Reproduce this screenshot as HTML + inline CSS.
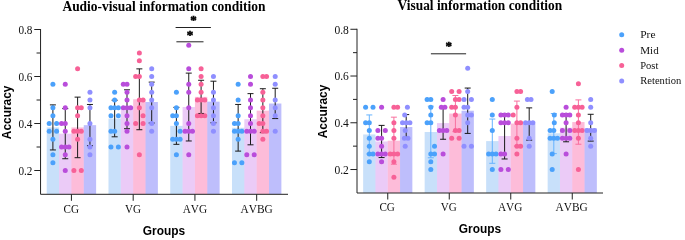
<!DOCTYPE html>
<html lang="en">
<head>
<meta charset="utf-8">
<title>Accuracy by group and condition</title>
<style>
html,body{margin:0;padding:0;background:#fff;}
body{width:685px;height:240px;overflow:hidden;}
svg{display:block;}
text{fill:#111;}
.tk{font:12px "Liberation Serif","Times New Roman",serif;}
.xt{font:13px "Liberation Serif","Times New Roman",serif;font-kerning:none;}
.lg{font:11.2px "Liberation Serif","Times New Roman",serif;}
.ti{font:bold 14.1px "Liberation Serif","Times New Roman",serif;fill:#000;}
.al{font:bold 11.9px "Liberation Sans",Arial,sans-serif;fill:#000;}
.st{font:bold 13px "Liberation Serif","Times New Roman",serif;fill:#000;stroke:#000;stroke-width:0.5px;}
</style>
</head>
<body>
<svg width="685" height="240" viewBox="0 0 685 240">
<rect width="685" height="240" fill="#fff"/>
<rect x="58.67" y="133.68" width="1" height="60.32" fill="#c8e0fa"/>
<rect x="46.72" y="127.42" width="12.35" height="66.58" fill="#c8e0fa"/>
<rect x="71.02" y="133.68" width="1" height="60.32" fill="#ebcbf7"/>
<rect x="59.07" y="133.68" width="12.35" height="60.32" fill="#ebcbf7"/>
<rect x="83.37" y="127.42" width="1" height="66.58" fill="#fdbcd9"/>
<rect x="71.42" y="127.42" width="12.35" height="66.58" fill="#fdbcd9"/>
<rect x="83.77" y="125.14" width="12.35" height="68.86" fill="#bebefc"/>
<rect x="120.42" y="118.52" width="1" height="75.48" fill="#c8e0fa"/>
<rect x="108.48" y="118.52" width="12.35" height="75.48" fill="#c8e0fa"/>
<rect x="132.78" y="109.26" width="1" height="84.74" fill="#ebcbf7"/>
<rect x="120.83" y="109.26" width="12.35" height="84.74" fill="#ebcbf7"/>
<rect x="145.12" y="102" width="1" height="92" fill="#fdbcd9"/>
<rect x="133.18" y="99.29" width="12.35" height="94.71" fill="#fdbcd9"/>
<rect x="145.53" y="102" width="12.35" height="92" fill="#bebefc"/>
<rect x="182.18" y="125.85" width="1" height="68.15" fill="#c8e0fa"/>
<rect x="170.23" y="125.85" width="12.35" height="68.15" fill="#c8e0fa"/>
<rect x="194.53" y="107.05" width="1" height="86.95" fill="#ebcbf7"/>
<rect x="182.58" y="107.05" width="12.35" height="86.95" fill="#ebcbf7"/>
<rect x="206.88" y="101.64" width="1" height="92.36" fill="#fdbcd9"/>
<rect x="194.93" y="96.87" width="12.35" height="97.13" fill="#fdbcd9"/>
<rect x="207.28" y="101.64" width="12.35" height="92.36" fill="#bebefc"/>
<rect x="243.93" y="127.77" width="1" height="66.23" fill="#c8e0fa"/>
<rect x="231.98" y="127.77" width="12.35" height="66.23" fill="#c8e0fa"/>
<rect x="256.28" y="119.23" width="1" height="74.77" fill="#ebcbf7"/>
<rect x="244.33" y="119.23" width="12.35" height="74.77" fill="#ebcbf7"/>
<rect x="268.63" y="110.68" width="1" height="83.32" fill="#fdbcd9"/>
<rect x="256.68" y="110.68" width="12.35" height="83.32" fill="#fdbcd9"/>
<rect x="269.03" y="103.52" width="12.35" height="90.48" fill="#bebefc"/>
<path d="M52.9 104.88V149.95M49.9 104.88h6M49.9 149.95h6" stroke="#1a1a1a" stroke-width="1" fill="none"/>
<path d="M65.25 108.62V158.74M62.25 108.62h6M62.25 158.74h6" stroke="#1a1a1a" stroke-width="1" fill="none"/>
<path d="M77.6 97.13V157.7M74.6 97.13h6M74.6 157.7h6" stroke="#1a1a1a" stroke-width="1" fill="none"/>
<path d="M89.95 104.47V145.71M86.95 104.47h6M86.95 145.71h6" stroke="#1a1a1a" stroke-width="1" fill="none"/>
<path d="M114.65 100.22V136.81M111.65 100.22h6M111.65 136.81h6" stroke="#1a1a1a" stroke-width="1" fill="none"/>
<path d="M127 89.81V128.71M124 89.81h6M124 128.71h6" stroke="#1a1a1a" stroke-width="1" fill="none"/>
<path d="M139.35 68.86V129.72M136.35 68.86h6M136.35 129.72h6" stroke="#1a1a1a" stroke-width="1" fill="none"/>
<path d="M151.7 82.14V123.03M148.7 82.14h6M148.7 123.03h6" stroke="#1a1a1a" stroke-width="1" fill="none"/>
<path d="M176.4 107.37V144.33M173.4 107.37h6M173.4 144.33h6" stroke="#1a1a1a" stroke-width="1" fill="none"/>
<path d="M188.75 73.12V140.98M185.75 73.12h6M185.75 140.98h6" stroke="#1a1a1a" stroke-width="1" fill="none"/>
<path d="M201.1 80.27V113.46M198.1 80.27h6M198.1 113.46h6" stroke="#1a1a1a" stroke-width="1" fill="none"/>
<path d="M213.45 81.2V122.79M210.45 81.2h6M210.45 122.79h6" stroke="#1a1a1a" stroke-width="1" fill="none"/>
<path d="M238.15 104.44V151.11M235.15 104.44h6M235.15 151.11h6" stroke="#1a1a1a" stroke-width="1" fill="none"/>
<path d="M250.5 93.64V144.82M247.5 93.64h6M247.5 144.82h6" stroke="#1a1a1a" stroke-width="1" fill="none"/>
<path d="M262.85 88.73V132.64M259.85 88.73h6M259.85 132.64h6" stroke="#1a1a1a" stroke-width="1" fill="none"/>
<path d="M275.2 88.25V118.57M272.2 88.25h6M272.2 118.57h6" stroke="#1a1a1a" stroke-width="1" fill="none"/>
<g fill="#4ba1fb"><circle cx="52.9" cy="84.33" r="2.5"/><circle cx="52.9" cy="107.83" r="2.5"/><circle cx="52.9" cy="115.67" r="2.5"/><circle cx="49.2" cy="123.5" r="2.5"/><circle cx="56.6" cy="123.5" r="2.5"/><circle cx="49.2" cy="131.33" r="2.5"/><circle cx="56.6" cy="131.33" r="2.5"/><circle cx="52.9" cy="139.17" r="2.5"/><circle cx="52.9" cy="154.83" r="2.5"/><circle cx="52.9" cy="162.67" r="2.5"/></g>
<g fill="#b94ddb"><circle cx="65.25" cy="84.33" r="2.5"/><circle cx="65.25" cy="107.83" r="2.5"/><circle cx="61.55" cy="123.5" r="2.5"/><circle cx="65.25" cy="123.5" r="2.5"/><circle cx="65.25" cy="131.33" r="2.5"/><circle cx="61.55" cy="147" r="2.5"/><circle cx="65.25" cy="147" r="2.5"/><circle cx="68.95" cy="147" r="2.5"/><circle cx="65.25" cy="154.83" r="2.5"/><circle cx="65.25" cy="170.5" r="2.5"/></g>
<g fill="#f76197"><circle cx="77.6" cy="68.67" r="2.5"/><circle cx="77.6" cy="107.83" r="2.5"/><circle cx="81.3" cy="107.83" r="2.5"/><circle cx="77.6" cy="115.67" r="2.5"/><circle cx="73.9" cy="131.33" r="2.5"/><circle cx="77.6" cy="131.33" r="2.5"/><circle cx="81.3" cy="131.33" r="2.5"/><circle cx="77.6" cy="139.17" r="2.5"/><circle cx="73.9" cy="170.5" r="2.5"/><circle cx="81.3" cy="170.5" r="2.5"/></g>
<g fill="#8f8fff"><circle cx="89.95" cy="92.17" r="2.5"/><circle cx="89.95" cy="100" r="2.5"/><circle cx="89.95" cy="107.83" r="2.5"/><circle cx="89.95" cy="123.5" r="2.5"/><circle cx="89.95" cy="139.17" r="2.5"/><circle cx="89.95" cy="147" r="2.5"/><circle cx="89.95" cy="154.83" r="2.5"/></g>
<g fill="#4ba1fb"><circle cx="114.65" cy="92.17" r="2.5"/><circle cx="114.65" cy="100" r="2.5"/><circle cx="110.95" cy="107.83" r="2.5"/><circle cx="114.65" cy="107.83" r="2.5"/><circle cx="118.35" cy="107.83" r="2.5"/><circle cx="110.95" cy="115.67" r="2.5"/><circle cx="118.35" cy="115.67" r="2.5"/><circle cx="110.95" cy="131.33" r="2.5"/><circle cx="114.65" cy="131.33" r="2.5"/><circle cx="110.95" cy="147" r="2.5"/><circle cx="118.35" cy="147" r="2.5"/></g>
<g fill="#b94ddb"><circle cx="123.3" cy="84.33" r="2.5"/><circle cx="127" cy="84.33" r="2.5"/><circle cx="127" cy="92.17" r="2.5"/><circle cx="127" cy="100" r="2.5"/><circle cx="123.3" cy="107.83" r="2.5"/><circle cx="127" cy="107.83" r="2.5"/><circle cx="130.7" cy="107.83" r="2.5"/><circle cx="127" cy="115.67" r="2.5"/><circle cx="127" cy="123.5" r="2.5"/><circle cx="127" cy="131.33" r="2.5"/><circle cx="127" cy="147" r="2.5"/></g>
<g fill="#f76197"><circle cx="139.35" cy="53" r="2.5"/><circle cx="139.35" cy="60.83" r="2.5"/><circle cx="135.65" cy="76.5" r="2.5"/><circle cx="139.35" cy="76.5" r="2.5"/><circle cx="139.35" cy="100" r="2.5"/><circle cx="143.05" cy="100" r="2.5"/><circle cx="139.35" cy="107.83" r="2.5"/><circle cx="143.05" cy="115.67" r="2.5"/><circle cx="135.65" cy="123.5" r="2.5"/><circle cx="143.05" cy="123.5" r="2.5"/><circle cx="139.35" cy="154.83" r="2.5"/></g>
<g fill="#8f8fff"><circle cx="151.7" cy="68.67" r="2.5"/><circle cx="151.7" cy="76.5" r="2.5"/><circle cx="151.7" cy="84.33" r="2.5"/><circle cx="151.7" cy="92.17" r="2.5"/><circle cx="151.7" cy="100" r="2.5"/><circle cx="151.7" cy="107.83" r="2.5"/><circle cx="151.7" cy="123.5" r="2.5"/><circle cx="151.7" cy="131.33" r="2.5"/></g>
<g fill="#4ba1fb"><circle cx="176.4" cy="92.17" r="2.5"/><circle cx="176.4" cy="107.83" r="2.5"/><circle cx="172.7" cy="115.67" r="2.5"/><circle cx="176.4" cy="115.67" r="2.5"/><circle cx="176.4" cy="123.5" r="2.5"/><circle cx="180.1" cy="131.33" r="2.5"/><circle cx="172.7" cy="139.17" r="2.5"/><circle cx="176.4" cy="139.17" r="2.5"/><circle cx="180.1" cy="139.17" r="2.5"/><circle cx="176.4" cy="154.83" r="2.5"/></g>
<g fill="#b94ddb"><circle cx="188.75" cy="45.17" r="2.5"/><circle cx="188.75" cy="68.67" r="2.5"/><circle cx="188.75" cy="84.33" r="2.5"/><circle cx="188.75" cy="92.17" r="2.5"/><circle cx="188.75" cy="107.83" r="2.5"/><circle cx="188.75" cy="123.5" r="2.5"/><circle cx="185.05" cy="131.33" r="2.5"/><circle cx="188.75" cy="131.33" r="2.5"/><circle cx="192.45" cy="131.33" r="2.5"/><circle cx="188.75" cy="154.83" r="2.5"/></g>
<g fill="#f76197"><circle cx="201.1" cy="68.67" r="2.5"/><circle cx="201.1" cy="76.5" r="2.5"/><circle cx="201.1" cy="84.33" r="2.5"/><circle cx="201.1" cy="92.17" r="2.5"/><circle cx="197.4" cy="100" r="2.5"/><circle cx="201.1" cy="100" r="2.5"/><circle cx="204.8" cy="100" r="2.5"/><circle cx="197.4" cy="115.67" r="2.5"/><circle cx="201.1" cy="115.67" r="2.5"/><circle cx="204.8" cy="115.67" r="2.5"/></g>
<g fill="#8f8fff"><circle cx="213.45" cy="76.5" r="2.5"/><circle cx="213.45" cy="92.17" r="2.5"/><circle cx="213.45" cy="100" r="2.5"/><circle cx="213.45" cy="107.83" r="2.5"/><circle cx="213.45" cy="115.67" r="2.5"/><circle cx="213.45" cy="123.5" r="2.5"/><circle cx="213.45" cy="131.33" r="2.5"/></g>
<g fill="#4ba1fb"><circle cx="238.15" cy="84.33" r="2.5"/><circle cx="238.15" cy="100" r="2.5"/><circle cx="238.15" cy="115.67" r="2.5"/><circle cx="234.45" cy="123.5" r="2.5"/><circle cx="238.15" cy="123.5" r="2.5"/><circle cx="234.45" cy="131.33" r="2.5"/><circle cx="238.15" cy="131.33" r="2.5"/><circle cx="241.85" cy="131.33" r="2.5"/><circle cx="238.15" cy="139.17" r="2.5"/><circle cx="234.45" cy="162.67" r="2.5"/><circle cx="241.85" cy="162.67" r="2.5"/></g>
<g fill="#b94ddb"><circle cx="250.5" cy="76.5" r="2.5"/><circle cx="250.5" cy="84.33" r="2.5"/><circle cx="250.5" cy="100" r="2.5"/><circle cx="250.5" cy="107.83" r="2.5"/><circle cx="250.5" cy="115.67" r="2.5"/><circle cx="250.5" cy="123.5" r="2.5"/><circle cx="246.8" cy="131.33" r="2.5"/><circle cx="250.5" cy="131.33" r="2.5"/><circle cx="254.2" cy="131.33" r="2.5"/><circle cx="246.8" cy="154.83" r="2.5"/><circle cx="254.2" cy="154.83" r="2.5"/></g>
<g fill="#f76197"><circle cx="262.85" cy="76.5" r="2.5"/><circle cx="266.55" cy="76.5" r="2.5"/><circle cx="262.85" cy="92.17" r="2.5"/><circle cx="262.85" cy="100" r="2.5"/><circle cx="262.85" cy="107.83" r="2.5"/><circle cx="262.85" cy="115.67" r="2.5"/><circle cx="259.15" cy="123.5" r="2.5"/><circle cx="262.85" cy="123.5" r="2.5"/><circle cx="262.85" cy="131.33" r="2.5"/><circle cx="266.55" cy="131.33" r="2.5"/><circle cx="262.85" cy="139.17" r="2.5"/></g>
<g fill="#8f8fff"><circle cx="275.2" cy="76.5" r="2.5"/><circle cx="275.2" cy="84.33" r="2.5"/><circle cx="275.2" cy="100" r="2.5"/><circle cx="275.2" cy="107.83" r="2.5"/><circle cx="275.2" cy="115.67" r="2.5"/><circle cx="275.2" cy="131.33" r="2.5"/></g>
<path d="M40.55 29V194.3H288" stroke="#222" stroke-width="1" fill="none"/>
<path d="M34.25 170.5h6.3M36.55 147h4M34.25 123.5h6.3M36.55 100h4M34.25 76.5h6.3M36.55 53h4M34.25 29.5h6.3M71.42 194.3v6.5M133.18 194.3v6.5M194.93 194.3v6.5M256.68 194.3v6.5" stroke="#222" stroke-width="1" fill="none"/>
<text x="18.45" y="174.95" class="tk" textLength="14.0" lengthAdjust="spacingAndGlyphs">0.2</text>
<text x="18.45" y="127.95" class="tk" textLength="14.0" lengthAdjust="spacingAndGlyphs">0.4</text>
<text x="18.45" y="80.95" class="tk" textLength="14.0" lengthAdjust="spacingAndGlyphs">0.6</text>
<text x="18.45" y="33.95" class="tk" textLength="14.0" lengthAdjust="spacingAndGlyphs">0.8</text>
<text x="63.58" y="213" class="xt" textLength="15.5" lengthAdjust="spacingAndGlyphs">CG</text>
<text x="125.08" y="213" class="xt" textLength="16.0" lengthAdjust="spacingAndGlyphs">VG</text>
<text x="182.63" y="213" class="xt" textLength="24.4" lengthAdjust="spacingAndGlyphs">AVG</text>
<text x="240.47" y="213" class="xt" textLength="32.2" lengthAdjust="spacingAndGlyphs">AVBG</text>
<text x="62.4" y="10.6" class="ti" textLength="203" lengthAdjust="spacingAndGlyphs">Audio-visual information condition</text>
<text x="164" y="234.7" text-anchor="middle" class="al">Groups</text>
<text transform="translate(10.6 112.4) rotate(-90)" text-anchor="middle" class="al">Accuracy</text>
<path d="M175.6 27.5H210.9" stroke="#222" stroke-width="1" fill="none"/>
<text x="193.5" y="24" text-anchor="middle" class="st">*</text>
<path d="M176.4 41.8H203.5" stroke="#222" stroke-width="1" fill="none"/>
<text x="189.9" y="38.7" text-anchor="middle" class="st">*</text>
<rect x="375.05" y="141.48" width="1" height="51.42" fill="#c8e0fa"/>
<rect x="363.15" y="134.46" width="12.3" height="58.44" fill="#c8e0fa"/>
<rect x="387.35" y="141.48" width="1" height="51.42" fill="#ebcbf7"/>
<rect x="375.45" y="141.48" width="12.3" height="51.42" fill="#ebcbf7"/>
<rect x="399.65" y="140.7" width="1" height="52.2" fill="#fdbcd9"/>
<rect x="387.75" y="140.7" width="12.3" height="52.2" fill="#fdbcd9"/>
<rect x="400.05" y="126.98" width="12.3" height="65.92" fill="#bebefc"/>
<rect x="436.55" y="131.98" width="1" height="60.92" fill="#c8e0fa"/>
<rect x="424.65" y="131.98" width="12.3" height="60.92" fill="#c8e0fa"/>
<rect x="448.85" y="123.1" width="1" height="69.8" fill="#ebcbf7"/>
<rect x="436.95" y="123.1" width="12.3" height="69.8" fill="#ebcbf7"/>
<rect x="461.15" y="113.57" width="1" height="79.33" fill="#fdbcd9"/>
<rect x="449.25" y="113.57" width="12.3" height="79.33" fill="#fdbcd9"/>
<rect x="461.55" y="110.73" width="12.3" height="82.17" fill="#bebefc"/>
<rect x="498.05" y="141.1" width="1" height="51.8" fill="#c8e0fa"/>
<rect x="486.15" y="141.1" width="12.3" height="51.8" fill="#c8e0fa"/>
<rect x="510.35" y="136.03" width="1" height="56.87" fill="#ebcbf7"/>
<rect x="498.45" y="136.03" width="12.3" height="56.87" fill="#ebcbf7"/>
<rect x="522.65" y="123.94" width="1" height="68.96" fill="#fdbcd9"/>
<rect x="510.75" y="123.55" width="12.3" height="69.35" fill="#fdbcd9"/>
<rect x="523.05" y="123.94" width="12.3" height="68.96" fill="#bebefc"/>
<rect x="559.55" y="133.29" width="1" height="59.61" fill="#c8e0fa"/>
<rect x="547.65" y="133.29" width="12.3" height="59.61" fill="#c8e0fa"/>
<rect x="571.85" y="127.73" width="1" height="65.17" fill="#ebcbf7"/>
<rect x="559.95" y="127.73" width="12.3" height="65.17" fill="#ebcbf7"/>
<rect x="584.15" y="128.24" width="1" height="64.66" fill="#fdbcd9"/>
<rect x="572.25" y="122.07" width="12.3" height="70.83" fill="#fdbcd9"/>
<rect x="584.55" y="128.24" width="12.3" height="64.66" fill="#bebefc"/>
<path d="M369.3 114.94V153.98M366.3 114.94h6M366.3 153.98h6" stroke="#66b3ff" stroke-width="1" fill="none"/>
<path d="M381.6 125.38V157.57M378.6 125.38h6M378.6 157.57h6" stroke="#1a1a1a" stroke-width="1" fill="none"/>
<path d="M393.9 117.16V164.23M390.9 117.16h6M390.9 164.23h6" stroke="#f8709f" stroke-width="1" fill="none"/>
<path d="M406.2 114.59V139.37M403.2 114.59h6M403.2 139.37h6" stroke="#1a1a1a" stroke-width="1" fill="none"/>
<path d="M430.8 106.18V157.78M427.8 106.18h6M427.8 157.78h6" stroke="#66b3ff" stroke-width="1" fill="none"/>
<path d="M443.1 106.95V139.25M440.1 106.95h6M440.1 139.25h6" stroke="#1a1a1a" stroke-width="1" fill="none"/>
<path d="M455.4 95.52V131.61M452.4 95.52h6M452.4 131.61h6" stroke="#f8709f" stroke-width="1" fill="none"/>
<path d="M467.7 88.05V133.41M464.7 88.05h6M464.7 133.41h6" stroke="#1a1a1a" stroke-width="1" fill="none"/>
<path d="M492.3 119.04V163.31M489.3 119.04h6M489.3 163.31h6" stroke="#66b3ff" stroke-width="1" fill="none"/>
<path d="M504.6 113.78V158.98M501.6 113.78h6M501.6 158.98h6" stroke="#1a1a1a" stroke-width="1" fill="none"/>
<path d="M516.9 101.08V146.03M513.9 101.08h6M513.9 146.03h6" stroke="#f8709f" stroke-width="1" fill="none"/>
<path d="M529.2 107.89V140.17M526.2 107.89h6M526.2 140.17h6" stroke="#1a1a1a" stroke-width="1" fill="none"/>
<path d="M553.8 113.57V153.63M550.8 113.57h6M550.8 153.63h6" stroke="#66b3ff" stroke-width="1" fill="none"/>
<path d="M566.1 113.68V141.79M563.1 113.68h6M563.1 141.79h6" stroke="#1a1a1a" stroke-width="1" fill="none"/>
<path d="M578.4 99.9V144.23M575.4 99.9h6M575.4 144.23h6" stroke="#f8709f" stroke-width="1" fill="none"/>
<path d="M590.7 114.29V141.1M587.7 114.29h6M587.7 141.1h6" stroke="#1a1a1a" stroke-width="1" fill="none"/>
<g fill="#4ba1fb"><circle cx="365.6" cy="107.19" r="2.5"/><circle cx="373" cy="107.19" r="2.5"/><circle cx="365.6" cy="122.77" r="2.5"/><circle cx="369.3" cy="122.77" r="2.5"/><circle cx="369.3" cy="130.57" r="2.5"/><circle cx="369.3" cy="138.36" r="2.5"/><circle cx="369.3" cy="146.15" r="2.5"/><circle cx="369.3" cy="153.94" r="2.5"/><circle cx="373" cy="153.94" r="2.5"/><circle cx="369.3" cy="161.73" r="2.5"/></g>
<g fill="#b94ddb"><circle cx="381.6" cy="107.19" r="2.5"/><circle cx="377.9" cy="130.57" r="2.5"/><circle cx="385.3" cy="130.57" r="2.5"/><circle cx="377.9" cy="138.36" r="2.5"/><circle cx="381.6" cy="138.36" r="2.5"/><circle cx="381.6" cy="146.15" r="2.5"/><circle cx="377.9" cy="153.94" r="2.5"/><circle cx="381.6" cy="153.94" r="2.5"/><circle cx="385.3" cy="153.94" r="2.5"/><circle cx="381.6" cy="161.73" r="2.5"/></g>
<g fill="#f76197"><circle cx="393.9" cy="107.19" r="2.5"/><circle cx="397.6" cy="107.19" r="2.5"/><circle cx="393.9" cy="122.77" r="2.5"/><circle cx="393.9" cy="130.57" r="2.5"/><circle cx="393.9" cy="138.36" r="2.5"/><circle cx="390.2" cy="153.94" r="2.5"/><circle cx="393.9" cy="153.94" r="2.5"/><circle cx="397.6" cy="153.94" r="2.5"/><circle cx="393.9" cy="161.73" r="2.5"/><circle cx="393.9" cy="177.32" r="2.5"/></g>
<g fill="#8f8fff"><circle cx="407.4" cy="107.19" r="2.5"/><circle cx="404.7" cy="114.98" r="2.5"/><circle cx="402.5" cy="122.77" r="2.5"/><circle cx="406.2" cy="122.77" r="2.5"/><circle cx="409.9" cy="122.77" r="2.5"/><circle cx="405.2" cy="130.57" r="2.5"/><circle cx="404.4" cy="138.36" r="2.5"/><circle cx="408" cy="138.36" r="2.5"/><circle cx="405.2" cy="146.15" r="2.5"/></g>
<g fill="#4ba1fb"><circle cx="427.1" cy="99.4" r="2.5"/><circle cx="430.8" cy="99.4" r="2.5"/><circle cx="430.8" cy="107.19" r="2.5"/><circle cx="430.8" cy="114.98" r="2.5"/><circle cx="427.1" cy="122.77" r="2.5"/><circle cx="430.8" cy="122.77" r="2.5"/><circle cx="434.5" cy="146.15" r="2.5"/><circle cx="430.8" cy="153.94" r="2.5"/><circle cx="434.5" cy="153.94" r="2.5"/><circle cx="430.8" cy="161.73" r="2.5"/><circle cx="430.8" cy="169.53" r="2.5"/></g>
<g fill="#b94ddb"><circle cx="443.1" cy="99.4" r="2.5"/><circle cx="441.3" cy="107.19" r="2.5"/><circle cx="444.9" cy="107.19" r="2.5"/><circle cx="439.4" cy="130.57" r="2.5"/><circle cx="443.1" cy="130.57" r="2.5"/><circle cx="446.8" cy="130.57" r="2.5"/><circle cx="443.1" cy="153.94" r="2.5"/></g>
<g fill="#f76197"><circle cx="451.7" cy="91.61" r="2.5"/><circle cx="459.1" cy="91.61" r="2.5"/><circle cx="455.4" cy="99.4" r="2.5"/><circle cx="459.1" cy="99.4" r="2.5"/><circle cx="451.7" cy="107.19" r="2.5"/><circle cx="455.4" cy="107.19" r="2.5"/><circle cx="455.4" cy="114.98" r="2.5"/><circle cx="455.4" cy="130.57" r="2.5"/><circle cx="459.1" cy="130.57" r="2.5"/><circle cx="451.7" cy="138.36" r="2.5"/><circle cx="459.1" cy="138.36" r="2.5"/></g>
<g fill="#8f8fff"><circle cx="467.7" cy="68.23" r="2.5"/><circle cx="467.7" cy="91.61" r="2.5"/><circle cx="464" cy="99.4" r="2.5"/><circle cx="471.4" cy="99.4" r="2.5"/><circle cx="464" cy="107.19" r="2.5"/><circle cx="467.7" cy="107.19" r="2.5"/><circle cx="467.7" cy="114.98" r="2.5"/><circle cx="471.4" cy="114.98" r="2.5"/><circle cx="467.7" cy="122.77" r="2.5"/><circle cx="464" cy="146.15" r="2.5"/><circle cx="471.4" cy="146.15" r="2.5"/></g>
<g fill="#4ba1fb"><circle cx="492.3" cy="99.4" r="2.5"/><circle cx="492.3" cy="114.98" r="2.5"/><circle cx="492.3" cy="130.57" r="2.5"/><circle cx="488.6" cy="153.94" r="2.5"/><circle cx="492.3" cy="153.94" r="2.5"/><circle cx="496" cy="153.94" r="2.5"/><circle cx="492.3" cy="169.53" r="2.5"/></g>
<g fill="#b94ddb"><circle cx="500.9" cy="114.98" r="2.5"/><circle cx="504.6" cy="114.98" r="2.5"/><circle cx="508.3" cy="114.98" r="2.5"/><circle cx="500.9" cy="122.77" r="2.5"/><circle cx="504.6" cy="122.77" r="2.5"/><circle cx="508.3" cy="122.77" r="2.5"/><circle cx="500.9" cy="153.94" r="2.5"/><circle cx="504.6" cy="153.94" r="2.5"/><circle cx="500.9" cy="169.53" r="2.5"/><circle cx="508.3" cy="169.53" r="2.5"/></g>
<g fill="#f76197"><circle cx="516.9" cy="91.61" r="2.5"/><circle cx="520.6" cy="91.61" r="2.5"/><circle cx="516.9" cy="107.19" r="2.5"/><circle cx="513.2" cy="114.98" r="2.5"/><circle cx="516.9" cy="122.77" r="2.5"/><circle cx="520.6" cy="122.77" r="2.5"/><circle cx="516.9" cy="138.36" r="2.5"/><circle cx="516.9" cy="146.15" r="2.5"/><circle cx="520.6" cy="146.15" r="2.5"/><circle cx="516.9" cy="153.94" r="2.5"/></g>
<g fill="#8f8fff"><circle cx="527.4" cy="99.4" r="2.5"/><circle cx="531" cy="99.4" r="2.5"/><circle cx="525.5" cy="122.77" r="2.5"/><circle cx="529.2" cy="122.77" r="2.5"/><circle cx="532.9" cy="122.77" r="2.5"/><circle cx="529.2" cy="138.36" r="2.5"/><circle cx="529.2" cy="146.15" r="2.5"/></g>
<g fill="#4ba1fb"><circle cx="552.2" cy="91.61" r="2.5"/><circle cx="554.3" cy="114.98" r="2.5"/><circle cx="554.3" cy="122.77" r="2.5"/><circle cx="550.1" cy="130.57" r="2.5"/><circle cx="553.8" cy="130.57" r="2.5"/><circle cx="550.1" cy="138.36" r="2.5"/><circle cx="553.8" cy="138.36" r="2.5"/><circle cx="557.5" cy="138.36" r="2.5"/><circle cx="552.2" cy="153.94" r="2.5"/><circle cx="552.2" cy="169.53" r="2.5"/></g>
<g fill="#b94ddb"><circle cx="566.1" cy="107.19" r="2.5"/><circle cx="562.4" cy="114.98" r="2.5"/><circle cx="566.1" cy="114.98" r="2.5"/><circle cx="569.8" cy="114.98" r="2.5"/><circle cx="566.1" cy="122.77" r="2.5"/><circle cx="562.4" cy="130.57" r="2.5"/><circle cx="569.8" cy="130.57" r="2.5"/><circle cx="562.4" cy="138.36" r="2.5"/><circle cx="566.1" cy="138.36" r="2.5"/><circle cx="569.8" cy="138.36" r="2.5"/><circle cx="566.1" cy="153.94" r="2.5"/></g>
<g fill="#f76197"><circle cx="578.4" cy="83.82" r="2.5"/><circle cx="574.7" cy="107.19" r="2.5"/><circle cx="578.4" cy="107.19" r="2.5"/><circle cx="582.1" cy="107.19" r="2.5"/><circle cx="578.4" cy="114.98" r="2.5"/><circle cx="578.4" cy="122.77" r="2.5"/><circle cx="574.7" cy="130.57" r="2.5"/><circle cx="578.4" cy="130.57" r="2.5"/><circle cx="582.1" cy="130.57" r="2.5"/><circle cx="578.4" cy="138.36" r="2.5"/><circle cx="578.4" cy="169.53" r="2.5"/></g>
<g fill="#8f8fff"><circle cx="590.7" cy="99.4" r="2.5"/><circle cx="590.7" cy="107.19" r="2.5"/><circle cx="590.7" cy="122.77" r="2.5"/><circle cx="587" cy="130.57" r="2.5"/><circle cx="590.7" cy="130.57" r="2.5"/><circle cx="594.4" cy="130.57" r="2.5"/><circle cx="590.7" cy="138.36" r="2.5"/><circle cx="590.7" cy="146.15" r="2.5"/></g>
<path d="M357 28.77V193H603" stroke="#222" stroke-width="1" fill="none"/>
<path d="M350.4 169.53h6.6M353 146.15h4M350.4 122.77h6.6M353 99.4h4M350.4 76.03h6.6M353 52.65h4M350.4 29.27h6.6M387.75 193v6.5M449.25 193v6.5M510.75 193v6.5M572.25 193v6.5" stroke="#222" stroke-width="1" fill="none"/>
<text x="334.4" y="173.97" class="tk" textLength="14.4" lengthAdjust="spacingAndGlyphs">0.2</text>
<text x="334.4" y="127.22" class="tk" textLength="14.4" lengthAdjust="spacingAndGlyphs">0.4</text>
<text x="334.4" y="80.48" class="tk" textLength="14.4" lengthAdjust="spacingAndGlyphs">0.6</text>
<text x="334.4" y="33.72" class="tk" textLength="14.4" lengthAdjust="spacingAndGlyphs">0.8</text>
<text x="379.4" y="211.3" class="xt" textLength="15.5" lengthAdjust="spacingAndGlyphs">CG</text>
<text x="440.65" y="211.3" class="xt" textLength="16.0" lengthAdjust="spacingAndGlyphs">VG</text>
<text x="497.95" y="211.3" class="xt" textLength="24.4" lengthAdjust="spacingAndGlyphs">AVG</text>
<text x="555.55" y="211.3" class="xt" textLength="32.2" lengthAdjust="spacingAndGlyphs">AVBG</text>
<text x="397.6" y="10.2" class="ti" textLength="164.6" lengthAdjust="spacingAndGlyphs">Visual information condition</text>
<text x="480" y="233.2" text-anchor="middle" class="al">Groups</text>
<text transform="translate(327.2 111.5) rotate(-90)" text-anchor="middle" class="al">Accuracy</text>
<path d="M430.9 53.8H466.1" stroke="#222" stroke-width="1" fill="none"/>
<text x="448.8" y="50.3" text-anchor="middle" class="st">*</text>
<circle cx="621.7" cy="34.8" r="2.5" fill="#4ba1fb"/>
<text x="640.2" y="38.1" class="lg" textLength="15.3" lengthAdjust="spacingAndGlyphs">Pre</text>
<circle cx="621.7" cy="50.2" r="2.5" fill="#b94ddb"/>
<text x="640.2" y="53.8" class="lg" textLength="18.5" lengthAdjust="spacingAndGlyphs">Mid</text>
<circle cx="621.7" cy="65.6" r="2.5" fill="#f76197"/>
<text x="640.2" y="69.2" class="lg" textLength="18.2" lengthAdjust="spacingAndGlyphs">Post</text>
<circle cx="621.7" cy="81" r="2.5" fill="#8f8fff"/>
<text x="640.2" y="84.3" class="lg" textLength="41.2" lengthAdjust="spacingAndGlyphs">Retention</text>
</svg>
</body>
</html>
